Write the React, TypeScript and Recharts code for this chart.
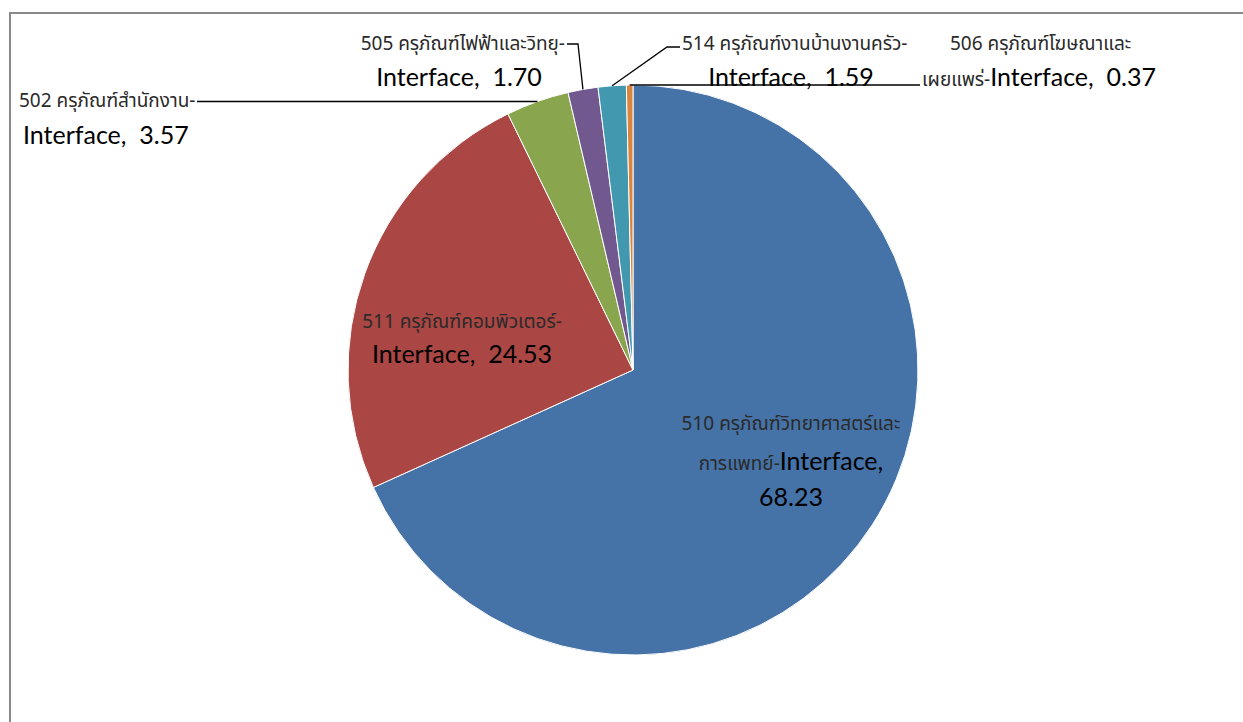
import React from "react";
import { PieChart, Pie, Cell } from "recharts";

const CATEGORY_HEAD = [
  "510 ครุภัณฑ์วิทยาศาสตร์และ",
  "511 ครุภัณฑ์คอมพิวเตอร์",
  "502 ครุภัณฑ์สำนักงาน",
  "505 ครุภัณฑ์ไฟฟ้าและวิทยุ",
  "514 ครุภัณฑ์งานบ้านงานครัว",
  "506 ครุภัณฑ์โฆษณาและ",
];
const CATEGORY_TAIL = ["การแพทย์", "", "", "", "", "เผยแพร่"];
const SERIES_NAME = "Interface";
const VALUES = [68.23, 24.53, 3.57, 1.7, 1.59, 0.37];
const COLORS = ["#4572A7", "#AA4643", "#89A54E", "#71588F", "#4198AF", "#DB843D"];

const data = VALUES.map((v, i) => ({
  name: CATEGORY_HEAD[i] + CATEGORY_TAIL[i],
  head: CATEGORY_HEAD[i],
  tail: CATEGORY_TAIL[i],
  value: v,
}));

type Anchor = "start" | "middle" | "end";
type Layout = {
  l1: { x: number; y: number; anchor: Anchor };
  l2: { x: number; y: number; anchor: Anchor };
  l3?: { x: number; y: number; anchor: Anchor };
  leader?: number[][];
};

const LAYOUT: Layout[] = [
  { l1: { x: 791, y: 430, anchor: "middle" }, l2: { x: 791, y: 470, anchor: "middle" }, l3: { x: 791, y: 506, anchor: "middle" } },
  { l1: { x: 462, y: 328, anchor: "middle" }, l2: { x: 462, y: 363, anchor: "middle" } },
  { l1: { x: 19, y: 107, anchor: "start" }, l2: { x: 23, y: 144, anchor: "start" }, leader: [[197, -1]] },
  { l1: { x: 565, y: 50, anchor: "end" }, l2: { x: 459, y: 86, anchor: "middle" }, leader: [[578, 44], [567, 44]] },
  { l1: { x: 682, y: 50, anchor: "start" }, l2: { x: 791, y: 86, anchor: "middle" }, leader: [[667, 47], [680, 47]] },
  { l1: { x: 950, y: 50, anchor: "start" }, l2: { x: 922, y: 86, anchor: "start" }, leader: [[920, -1]] },
];

const THAI_FONT = "'Noto Sans Thai', 'Noto Sans', sans-serif";
const LATIN_FONT = "Lato, 'Open Sans', sans-serif";
const SMALL = 19;
const BIG = 25;
const RAD = Math.PI / 180;

const renderLabel = (props: any) => {
  const { cx, cy, midAngle, outerRadius, index } = props;
  const lay = LAYOUT[index];
  const head = data[index].head;
  const tail = data[index].tail;
  const value = data[index].value.toFixed(2);
  const split = !!lay.l3;
  const px = cx + outerRadius * Math.cos(-midAngle * RAD);
  const py = cy + outerRadius * Math.sin(-midAngle * RAD);
  let leader: React.ReactNode = null;
  if (lay.leader) {
    const pts = [[px, py], ...lay.leader.map((p) => [p[0], p[1] < 0 ? py : p[1]])];
    leader = (
      <polyline
        points={pts.map((p) => p.join(",")).join(" ")}
        fill="none"
        stroke="#000"
        strokeWidth={1.3}
      />
    );
  }
  return (
    <g key={`lbl-${index}`}>
      {leader}
      <text x={lay.l1.x} y={lay.l1.y} textAnchor={lay.l1.anchor} fontFamily={THAI_FONT} fontSize={SMALL} fill="#2a2a2a">
        {head + (tail ? "" : "-")}
      </text>
      <text x={lay.l2.x} y={lay.l2.y} textAnchor={lay.l2.anchor} fill="#000">
        {tail ? (
          <tspan fontFamily={THAI_FONT} fontSize={SMALL} fill="#2a2a2a">{tail + "-"}</tspan>
        ) : null}
        <tspan fontFamily={LATIN_FONT} fontSize={BIG}>
          {SERIES_NAME + "," + (split ? "" : "\u00a0\u00a0" + value)}
        </tspan>
      </text>
      {lay.l3 ? (
        <text x={lay.l3.x} y={lay.l3.y} textAnchor={lay.l3.anchor} fontFamily={LATIN_FONT} fontSize={BIG} fill="#000">
          {value}
        </text>
      ) : null}
    </g>
  );
};

export default function App() {
  return (
    <div style={{ position: "fixed", left: 0, top: 0, width: 1243, height: 722, overflow: "hidden", background: "#fff" }}>
      <div
        style={{
          position: "absolute",
          left: 9,
          top: 12,
          width: 1400,
          height: 900,
          borderTop: "2px solid #8a8a8a",
          borderLeft: "2px solid #8a8a8a",
        }}
      />
      <div style={{ position: "absolute", left: 0, top: 0 }}>
        <PieChart width={1243} height={722} margin={{ top: 0, right: 0, bottom: 0, left: 0 }}>
          <Pie
            data={data}
            dataKey="value"
            nameKey="name"
            cx={633}
            cy={370}
            outerRadius={285}
            startAngle={90}
            endAngle={-270}
            stroke="#ffffff"
            strokeWidth={1}
            isAnimationActive={false}
            labelLine={false}
            label={renderLabel}
          >
            {data.map((d, i) => (
              <Cell key={d.name} fill={COLORS[i]} />
            ))}
          </Pie>
        </PieChart>
      </div>
    </div>
  );
}
